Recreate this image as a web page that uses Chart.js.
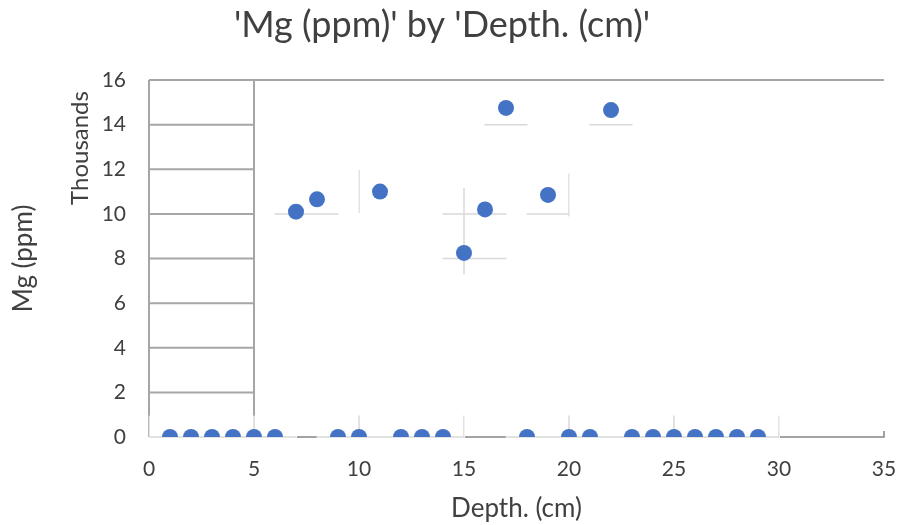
<!DOCTYPE html>
<html>
<head>
<meta charset="utf-8">
<script src="https://cdn.jsdelivr.net/npm/chart.js@4/dist/chart.umd.min.js"></script>
<style>
  html, body { margin: 0; padding: 0; background: #ffffff; }
  #wrap { width: 901px; height: 525px; }
</style>
</head>
<body>
<div id="wrap"><canvas id="c" width="901" height="525"></canvas></div>
<script>
// Sample depths (cm) and magnesium readings (ppm)
const depthCm = [1, 2, 3, 4, 5, 6, 7, 8, 9, 10, 11, 12, 13, 14, 15,
                 16, 17, 18, 19, 20, 21, 22, 23, 24, 25, 26, 27, 28, 29];
const mgPpm = [0, 0, 0, 0, 0, 0, 10100, 10650, 0, 0, 11000, 0, 0, 0, 8250,
               10200, 14750, 0, 10850, 0, 0, 14650, 0, 0, 0, 0, 0, 0, 0];

const xTicks = [0, 5, 10, 15, 20, 25, 30, 35];
const yTicks = [0, 2000, 4000, 6000, 8000, 10000, 12000, 14000, 16000];

const chartTitle = "'Mg (ppm)' by 'Depth. (cm)'";
const xTitle = 'Depth. (cm)';
const yTitle = 'Mg (ppm)';
const yUnitLabel = 'Thousands';

const FONT = 'Lato, "Open Sans", sans-serif';
const TEXT = '#404040';

const points = depthCm.map((d, i) => ({ x: d, y: mgPpm[i] }));

// Square patches around markers; patches that touch are merged into
// their common bounding box.
function markerPatches(meta, half) {
  let boxes = meta.data.map(el => ({
    l: el.x - half, r: el.x + half, t: el.y - half, b: el.y + half
  }));
  const touch = (a, b) =>
    a.l <= b.r + 1 && b.l <= a.r + 1 && a.t <= b.b + 1 && b.t <= a.b + 1;
  let merged = true;
  while (merged) {
    merged = false;
    outer:
    for (let i = 0; i < boxes.length; i++) {
      for (let j = i + 1; j < boxes.length; j++) {
        const a = boxes[i], b = boxes[j];
        if (touch(a, b)) {
          boxes[i] = {
            l: Math.min(a.l, b.l), r: Math.max(a.r, b.r),
            t: Math.min(a.t, b.t), b: Math.max(a.b, b.b)
          };
          boxes.splice(j, 1);
          merged = true;
          break outer;
        }
      }
    }
  }
  return boxes;
}

// Grid drawn in two layers: a darker frame, and light grid lines
// that only show inside the patches around the markers.
const gridPlugin = {
  id: 'patchGrid',
  beforeDatasetsDraw(chart) {
    const { ctx, scales: { x, y } } = chart;
    const px = v => x.getPixelForValue(v);
    const py = v => y.getPixelForValue(v);
    const x0 = px(0), x5 = px(5), x35 = px(35);
    const yTop = py(16000), yBase = py(0);
    const meta = chart.getDatasetMeta(0);
    const patches = markerPatches(meta, 21.5);

    // dark frame on an offscreen layer, cut away inside the patches
    const off = document.createElement('canvas');
    off.width = chart.width; off.height = chart.height;
    const o = off.getContext('2d');
    o.strokeStyle = '#a6a6a6';
    o.lineWidth = 2;
    o.beginPath();
    o.moveTo(x0, yTop); o.lineTo(x35, yTop);
    o.moveTo(x0, yTop); o.lineTo(x0, yBase);
    o.moveTo(x5, yTop); o.lineTo(x5, yBase);
    yTicks.forEach(v => {
      if (v > 0 && v < 16000) { o.moveTo(x0, py(v)); o.lineTo(x5, py(v)); }
    });
    o.stroke();
    o.strokeStyle = '#858585';
    o.lineWidth = 1.5;
    o.beginPath();
    o.moveTo(x0, yBase); o.lineTo(x35, yBase);
    o.moveTo(x35, yBase + 0.75); o.lineTo(x35, yBase - 6);
    o.stroke();
    patches.forEach(p => o.clearRect(p.l, p.t, p.r - p.l, p.b - p.t));
    ctx.drawImage(off, 0, 0);

    // light grid inside the patches
    ctx.save();
    ctx.beginPath();
    patches.forEach(p => ctx.rect(p.l, p.t, p.r - p.l, p.b - p.t));
    ctx.clip();
    ctx.strokeStyle = '#d9d9d9';
    ctx.lineWidth = 1.5;
    ctx.beginPath();
    xTicks.forEach(v => { ctx.moveTo(px(v), yTop); ctx.lineTo(px(v), yBase); });
    yTicks.forEach(v => { ctx.moveTo(x0, py(v)); ctx.lineTo(x35, py(v)); });
    ctx.stroke();
    ctx.restore();
  },
  afterDraw(chart) {
    const { ctx } = chart;
    ctx.save();
    ctx.translate(80, 148);
    ctx.rotate(-Math.PI / 2);
    ctx.font = '24px ' + FONT;
    ctx.fillStyle = TEXT;
    ctx.textAlign = 'center';
    ctx.textBaseline = 'middle';
    ctx.fillText(yUnitLabel, 0, 0);
    ctx.restore();
  }
};

new Chart(document.getElementById('c'), {
  type: 'scatter',
  data: {
    datasets: [{
      label: yTitle,
      data: points,
      backgroundColor: '#4472c4',
      borderColor: '#4472c4',
      borderWidth: 0,
      pointRadius: 8,
      pointHoverRadius: 8
    }]
  },
  options: {
    responsive: false,
    animation: false,
    devicePixelRatio: 1,
    layout: { padding: { left: 0, right: 17, top: 0, bottom: 0 } },
    plugins: {
      legend: { display: false },
      tooltip: { enabled: false },
      title: {
        display: true,
        text: chartTitle,
        color: TEXT,
        font: { family: FONT, size: 36, weight: 'normal' },
        padding: { top: 4, bottom: 32.8 }
      }
    },
    scales: {
      x: {
        type: 'linear',
        min: 0,
        max: 35,
        afterBuildTicks: s => { s.ticks = xTicks.map(v => ({ value: v })); },
        afterFit: s => { s.height = 88; s.paddingLeft = 0; s.paddingRight = 0; },
        grid: { display: false, drawTicks: false },
        border: { display: false },
        ticks: {
          color: TEXT,
          padding: 20,
          maxRotation: 0,
          font: { family: FONT, size: 21 }
        },
        title: {
          display: true,
          text: xTitle,
          color: TEXT,
          font: { family: FONT, size: 26 },
          padding: { top: 0, bottom: 1 }
        }
      },
      y: {
        type: 'linear',
        min: 0,
        max: 16000,
        afterBuildTicks: s => { s.ticks = yTicks.map(v => ({ value: v })); },
        afterFit: s => { s.width = 149; },
        grid: { display: false, drawTicks: false },
        border: { display: false },
        ticks: {
          color: TEXT,
          padding: 23,
          font: { family: FONT, size: 21 },
          callback: v => String(v / 1000)
        },
        title: {
          display: true,
          text: yTitle,
          color: TEXT,
          font: { family: FONT, size: 26 },
          padding: { top: 8.5, bottom: 0 }
        }
      }
    }
  },
  plugins: [gridPlugin]
});
</script>
</body>
</html>
